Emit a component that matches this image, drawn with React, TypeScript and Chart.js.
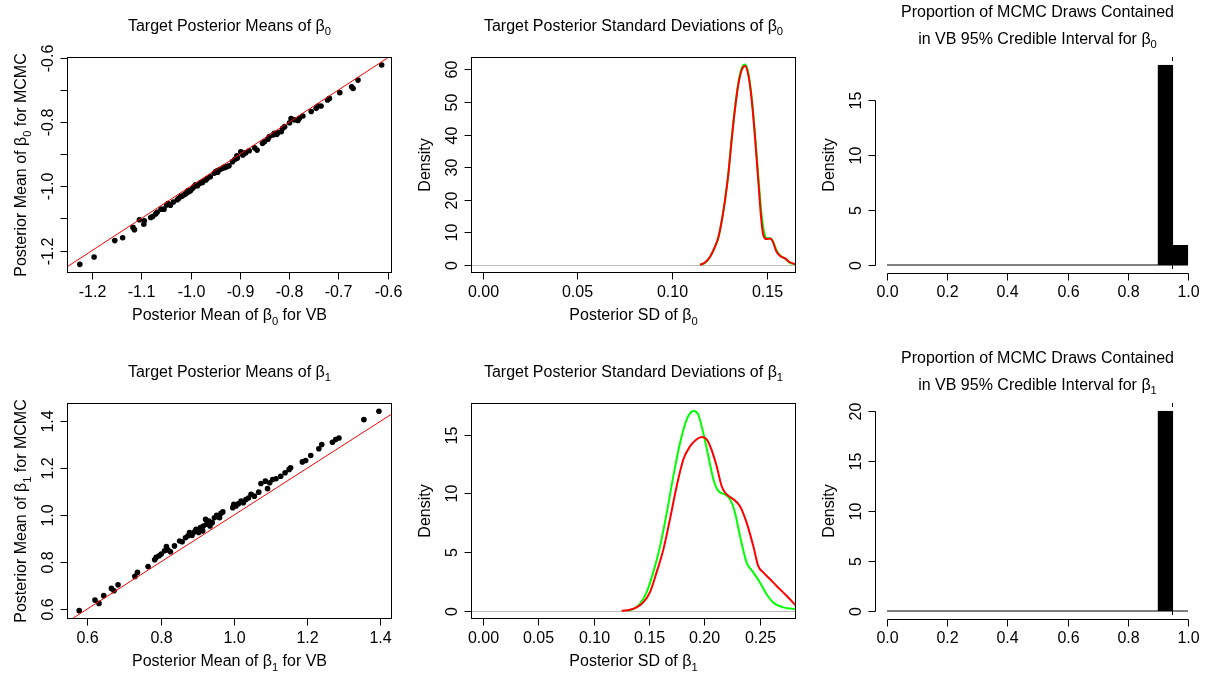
import React, { useEffect, useRef } from "react";
import { Chart, registerables } from "chart.js";

Chart.register(...registerables);

// ---------------------------------------------------------------------------
// Data
// ---------------------------------------------------------------------------

// Posterior means of beta0 across simulated data sets: VB (x) against MCMC (y)
const beta0MeanVB = [
  -1.225, -1.196, -1.154, -1.138, -1.117, -1.114, -1.104, -1.095, -1.094, -1.081,
  -1.077, -1.071, -1.068, -1.06, -1.054, -1.049, -1.046, -1.041, -1.027, -1.024,
  -1.02, -1.017, -1.013, -1.01, -1.007, -1.003, -1.0, -0.996, -0.993, -0.99,
  -0.986, -0.981, -0.976, -0.969, -0.966, -0.952, -0.949, -0.945, -0.94, -0.935,
  -0.932, -0.926, -0.922, -0.915, -0.91, -0.905, -0.906, -0.898, -0.894, -0.891,
  -0.888, -0.881, -0.865, -0.854, -0.85, -0.843, -0.84, -0.833, -0.83, -0.823,
  -0.816, -0.813, -0.809, -0.799, -0.796, -0.789, -0.782, -0.779, -0.772, -0.755,
  -0.745, -0.741, -0.735, -0.722, -0.718, -0.697, -0.673, -0.67, -0.66, -0.612,
  -1.005, -0.96, -0.93, -0.87, -0.825, -0.975, -1.035, -0.945,
];
const beta0MeanMCMC = [
  -1.243, -1.22, -1.169, -1.16, -1.128, -1.135, -1.104, -1.118, -1.107, -1.097,
  -1.094, -1.086, -1.081, -1.071, -1.071, -1.058, -1.054, -1.059, -1.042, -1.037,
  -1.032, -1.03, -1.026, -1.023, -1.019, -1.016, -1.013, -1.006, -1.001, -0.995,
  -0.998, -0.99, -0.988, -0.98, -0.975, -0.959, -0.954, -0.951, -0.947, -0.944,
  -0.94, -0.938, -0.936, -0.923, -0.916, -0.912, -0.905, -0.892, -0.902, -0.897,
  -0.895, -0.889, -0.887, -0.866, -0.861, -0.853, -0.845, -0.84, -0.835, -0.833,
  -0.83, -0.819, -0.814, -0.802, -0.789, -0.793, -0.795, -0.788, -0.781, -0.767,
  -0.757, -0.75, -0.75, -0.731, -0.726, -0.708, -0.69, -0.695, -0.669, -0.622,
  -1.013, -0.97, -0.941, -0.88, -0.838, -0.985, -1.049, -0.956,
];

// Posterior means of beta1: VB (x) against MCMC (y)
const beta1MeanVB = [
  0.578, 0.621, 0.632, 0.645, 0.666, 0.673, 0.684, 0.73, 0.737, 0.766,
  0.784, 0.788, 0.796, 0.802, 0.811, 0.816, 0.82, 0.827, 0.838, 0.852,
  0.859, 0.868, 0.875, 0.879, 0.886, 0.893, 0.897, 0.904, 0.909, 0.915,
  0.917, 0.923, 0.926, 0.932, 0.935, 0.941, 0.947, 0.953, 0.961, 0.965,
  0.97, 0.997, 1.0, 1.006, 1.013, 1.02, 1.026, 1.033, 1.04, 1.047,
  1.056, 1.068, 1.074, 1.086, 1.092, 1.098, 1.106, 1.115, 1.128, 1.14,
  1.151, 1.155, 1.187, 1.196, 1.21, 1.232, 1.24, 1.269, 1.278, 1.287,
  1.355, 1.396,
];
const beta1MeanMCMC = [
  0.593, 0.638, 0.624, 0.657, 0.688, 0.678, 0.703, 0.739, 0.756, 0.781,
  0.81, 0.82, 0.827, 0.834, 0.848, 0.866, 0.852, 0.844, 0.869, 0.89,
  0.887, 0.904, 0.912, 0.926, 0.914, 0.929, 0.94, 0.926, 0.947, 0.933,
  0.954, 0.982, 0.961, 0.975, 0.954, 0.968, 0.989, 0.999, 0.989, 1.008,
  1.014, 1.032, 1.046, 1.039, 1.049, 1.06, 1.053, 1.067, 1.073, 1.089,
  1.081, 1.098, 1.135, 1.145, 1.113, 1.138, 1.152, 1.155, 1.166, 1.181,
  1.195, 1.202, 1.227, 1.233, 1.254, 1.283, 1.301, 1.311, 1.322, 1.329,
  1.407, 1.443,
];

// Kernel density of the posterior SDs of beta0 (red: VB, green: MCMC)
const beta0SdVbX = [
  0.1148, 0.1174, 0.1201, 0.1227, 0.1245, 0.1262, 0.128, 0.1298, 0.1315, 0.1333,
  0.135, 0.1368, 0.1386, 0.1403, 0.1421, 0.1438, 0.1456, 0.147, 0.1482, 0.15,
  0.1518, 0.1532, 0.1549, 0.157, 0.1597, 0.1623, 0.1655,
];
const beta0SdVbY = [
  0, 0.7, 2.5, 5.6, 8.5, 13.3, 19.9, 28.1, 38.3, 48.0,
  55.2, 59.8, 61.0, 58.3, 50.6, 39.4, 25.6, 14.9, 9.2, 7.9,
  8.1, 7.2, 4.4, 2.8, 2.0, 0.8, 0.2,
];
const beta0SdMcmcX = [
  0.115, 0.1174, 0.1201, 0.1227, 0.1245, 0.1262, 0.128, 0.1298, 0.1315, 0.1333,
  0.135, 0.1368, 0.1386, 0.1403, 0.1421, 0.1438, 0.1456, 0.1473, 0.1487, 0.1503,
  0.1521, 0.1535, 0.1553, 0.1574, 0.16, 0.1623, 0.1655,
];
const beta0SdMcmcY = [
  0, 0.6, 2.4, 5.5, 8.4, 13.2, 19.8, 28.2, 38.6, 48.5,
  55.8, 60.4, 61.5, 58.9, 51.4, 40.5, 27.0, 15.6, 9.9, 8.2,
  8.1, 7.0, 4.4, 2.7, 1.8, 0.6, 0.1,
];

// Kernel density of the posterior SDs of beta1
const beta1SdVbX = [
  0.1253, 0.1328, 0.1388, 0.1448, 0.1508, 0.1568, 0.1629, 0.1689, 0.1749, 0.181,
  0.187, 0.193, 0.1974, 0.202, 0.2064, 0.211, 0.2155, 0.22, 0.226, 0.232,
  0.238, 0.244, 0.2485, 0.253, 0.259, 0.265, 0.274, 0.2825,
];
const beta1SdVbY = [
  0, 0.08, 0.28, 0.7, 1.56, 3.26, 5.2, 7.8, 10.6, 12.9,
  14.0, 14.6, 14.8, 14.6, 13.7, 12.3, 10.6, 9.9, 9.5, 8.9,
  7.5, 5.5, 3.8, 3.26, 2.7, 2.1, 1.27, 0.42,
];
const beta1SdMcmcX = [
  0.1298, 0.1358, 0.1418, 0.1478, 0.1538, 0.16, 0.166, 0.172, 0.178, 0.184,
  0.19, 0.1944, 0.199, 0.2034, 0.208, 0.2124, 0.2185, 0.223, 0.2275, 0.232,
  0.238, 0.244, 0.25, 0.256, 0.262, 0.271, 0.2825,
];
const beta1SdMcmcY = [
  0, 0.14, 0.57, 1.56, 3.26, 5.5, 8.35, 11.5, 14.3, 16.3,
  17.0, 16.7, 15.1, 13.2, 11.2, 10.2, 9.9, 9.5, 8.35, 6.37,
  4.1, 3.26, 2.4, 1.4, 0.7, 0.28, 0.14,
];

// Histogram of coverage proportions (density scale), bins of width 0.05
const coverageBreaks = [
  0, 0.05, 0.1, 0.15, 0.2, 0.25, 0.3, 0.35, 0.4, 0.45, 0.5,
  0.55, 0.6, 0.65, 0.7, 0.75, 0.8, 0.85, 0.9, 0.95, 1.0,
];
const beta0Coverage = [0, 0, 0, 0, 0, 0, 0, 0, 0, 0, 0, 0, 0, 0, 0, 0, 0, 0, 18.2, 1.8];
const beta1Coverage = [0, 0, 0, 0, 0, 0, 0, 0, 0, 0, 0, 0, 0, 0, 0, 0, 0, 0, 20.0, 0];
const nominalLevel = 0.95;

// Axis ticks
const beta0MeanXTicks = [-1.2, -1.1, -1.0, -0.9, -0.8, -0.7, -0.6];
const beta0MeanYTicks = [-1.2, -1.1, -1.0, -0.9, -0.8, -0.7, -0.6];
const beta0MeanYLabelled = [-1.2, -1.0, -0.8, -0.6];
const beta1MeanXTicks = [0.6, 0.8, 1.0, 1.2, 1.4];
const beta1MeanYTicks = [0.6, 0.8, 1.0, 1.2, 1.4];
const beta0SdXTicks = [0, 0.05, 0.1, 0.15];
const beta0SdYTicks = [0, 10, 20, 30, 40, 50, 60];
const beta1SdXTicks = [0, 0.05, 0.1, 0.15, 0.2, 0.25];
const beta1SdYTicks = [0, 5, 10, 15];
const coverageXTicks = [0, 0.2, 0.4, 0.6, 0.8, 1.0];
const beta0CoverageYTicks = [0, 5, 10, 15];
const beta1CoverageYTicks = [0, 5, 10, 15, 20];

// Axis limits of each plot region
const beta0MeanXLim: [number, number] = [-1.251, -0.591];
const beta0MeanYLim: [number, number] = [-1.27, -0.597];
const beta1MeanXLim: [number, number] = [0.5447, 1.4317];
const beta1MeanYLim: [number, number] = [0.5575, 1.478];
const beta0SdXLim: [number, number] = [-0.0062, 0.1655];
const beta0SdYLim: [number, number] = [-2.5, 63.8];
const beta1SdXLim: [number, number] = [-0.0105, 0.2825];
const beta1SdYLim: [number, number] = [-0.71, 17.69];
const coverageXLim: [number, number] = [-0.04, 1.04];
const beta0CoverageYLim: [number, number] = [-0.728, 18.93];
const beta1CoverageYLim: [number, number] = [-0.8, 20.8];

// ---------------------------------------------------------------------------
// Layout and text
// ---------------------------------------------------------------------------

const PAGE_W = 1212;
const PAGE_H = 674;
const PANEL_W = 404;
const PANEL_H = 328;
const ROW_STEP = 346;
const PAD = { left: 67, right: 12, top: 57, bottom: 55 };

const FONT_FAMILY = '"Liberation Sans", Arial, Helvetica, sans-serif';
const FONT_SIZE = 16;
const SUB_SCALE = 0.7;
const SUB_DROP = 4.5;
const TICK_LEN = 7;
const X_TICK_BASE = 24;
const X_TITLE_BASE = 47;
const Y_TICK_BASE = 14.5;
const Y_TITLE_BASE = 41;
const TITLE_ONE_LINE = 30.5;
const TITLE_TWO_LINES = [17, 43.5];
const POINT_RADIUS = 2.8;

type Seg = { text: string; sub: boolean };

// "β_0" style markup: an underscore followed by a digit becomes a subscript
function parseRich(s: string): Seg[] {
  const out: Seg[] = [];
  const re = /_(\d)/g;
  let last = 0;
  let m: RegExpExecArray | null;
  while ((m = re.exec(s))) {
    if (m.index > last) out.push({ text: s.slice(last, m.index), sub: false });
    out.push({ text: m[1], sub: true });
    last = m.index + m[0].length;
  }
  if (last < s.length) out.push({ text: s.slice(last), sub: false });
  return out;
}

function drawRich(ctx: CanvasRenderingContext2D, s: string, x: number, y: number, rotated = false) {
  const segs = parseRich(s);
  const mainFont = `${FONT_SIZE}px ${FONT_FAMILY}`;
  const subFont = `${FONT_SIZE * SUB_SCALE}px ${FONT_FAMILY}`;
  let total = 0;
  const widths = segs.map((g) => {
    ctx.font = g.sub ? subFont : mainFont;
    const w = ctx.measureText(g.text).width;
    total += w;
    return w;
  });
  ctx.save();
  ctx.translate(x, y);
  if (rotated) ctx.rotate(-Math.PI / 2);
  ctx.textAlign = "left";
  ctx.textBaseline = "alphabetic";
  ctx.fillStyle = "#000";
  let cx = -total / 2;
  segs.forEach((g, i) => {
    ctx.font = g.sub ? subFont : mainFont;
    ctx.fillText(g.text, cx, g.sub ? SUB_DROP : 0);
    cx += widths[i];
  });
  ctx.restore();
}

const snap = (v: number) => Math.round(v) + 0.5;
const near = (a: number, b: number) => Math.abs(a - b) < 1e-9;

// ---------------------------------------------------------------------------
// Panel specification
// ---------------------------------------------------------------------------

interface PanelSpec {
  id: string;
  col: number;
  row: number;
  title: string[];
  xLabel: string | null;
  yLabel: string;
  xLim: [number, number];
  yLim: [number, number];
  xTicks: number[];
  xDigits: number;
  yTicks: number[];
  yDigits: number;
  yLabelled?: number[];
  frame: "box" | "axes";
  zeroLine?: boolean;
  refLine?: number;
  config: () => any;
}

const zip = (xs: number[], ys: number[]) => xs.map((x, i) => ({ x, y: ys[i] }));

function scatterConfig(vb: number[], mcmc: number[], xLim: [number, number]) {
  return {
    type: "scatter",
    data: {
      datasets: [
        {
          label: "y = x",
          data: [
            { x: xLim[0], y: xLim[0] },
            { x: xLim[1], y: xLim[1] },
          ],
          showLine: true,
          borderColor: "#ff0000",
          borderWidth: 1,
          pointRadius: 0,
          fill: false,
        },
        {
          label: "posterior means",
          data: zip(vb, mcmc),
          showLine: false,
          pointRadius: POINT_RADIUS,
          pointBackgroundColor: "#000",
          pointBorderWidth: 0,
        },
      ],
    },
  };
}

function densityConfig(vbX: number[], vbY: number[], mcX: number[], mcY: number[]) {
  const line = {
    showLine: true,
    borderWidth: 2,
    pointRadius: 0,
    fill: false,
    cubicInterpolationMode: "monotone",
  };
  return {
    type: "scatter",
    data: {
      datasets: [
        { label: "VB", data: zip(vbX, vbY), borderColor: "#ff0000", ...line },
        { label: "MCMC", data: zip(mcX, mcY), borderColor: "#00ff00", ...line },
      ],
    },
  };
}

function histConfig(values: number[]) {
  const mids = values.map((_, i) => (coverageBreaks[i] + coverageBreaks[i + 1]) / 2);
  return {
    type: "bar",
    data: {
      datasets: [
        {
          type: "bar",
          label: "density",
          data: mids.map((x, i) => ({ x, y: values[i] })),
          backgroundColor: "#000",
          borderColor: "#000",
          borderWidth: 1,
          borderSkipped: false,
          barPercentage: 1,
          categoryPercentage: 1,
          grouped: false,
        },
        {
          type: "line",
          label: "empty bins",
          data: [
            { x: coverageBreaks[0], y: 0 },
            { x: coverageBreaks[coverageBreaks.length - 1], y: 0 },
          ],
          borderColor: "#000",
          borderWidth: 1,
          pointRadius: 0,
          fill: false,
        },
      ],
    },
  };
}

const panels: PanelSpec[] = [
  {
    id: "mean0",
    col: 0,
    row: 0,
    title: ["Target Posterior Means of β_0"],
    xLabel: "Posterior Mean of β_0 for VB",
    yLabel: "Posterior Mean of β_0 for MCMC",
    xLim: beta0MeanXLim,
    yLim: beta0MeanYLim,
    xTicks: beta0MeanXTicks,
    xDigits: 1,
    yTicks: beta0MeanYTicks,
    yDigits: 1,
    yLabelled: beta0MeanYLabelled,
    frame: "box",
    config: () => scatterConfig(beta0MeanVB, beta0MeanMCMC, beta0MeanXLim),
  },
  {
    id: "sd0",
    col: 1,
    row: 0,
    title: ["Target Posterior Standard Deviations of β_0"],
    xLabel: "Posterior SD of β_0",
    yLabel: "Density",
    xLim: beta0SdXLim,
    yLim: beta0SdYLim,
    xTicks: beta0SdXTicks,
    xDigits: 2,
    yTicks: beta0SdYTicks,
    yDigits: 0,
    frame: "box",
    zeroLine: true,
    config: () => densityConfig(beta0SdVbX, beta0SdVbY, beta0SdMcmcX, beta0SdMcmcY),
  },
  {
    id: "cov0",
    col: 2,
    row: 0,
    title: ["Proportion of MCMC Draws Contained", "in VB 95% Credible Interval for β_0"],
    xLabel: null,
    yLabel: "Density",
    xLim: coverageXLim,
    yLim: beta0CoverageYLim,
    xTicks: coverageXTicks,
    xDigits: 1,
    yTicks: beta0CoverageYTicks,
    yDigits: 0,
    frame: "axes",
    refLine: nominalLevel,
    config: () => histConfig(beta0Coverage),
  },
  {
    id: "mean1",
    col: 0,
    row: 1,
    title: ["Target Posterior Means of β_1"],
    xLabel: "Posterior Mean of β_1 for VB",
    yLabel: "Posterior Mean of β_1 for MCMC",
    xLim: beta1MeanXLim,
    yLim: beta1MeanYLim,
    xTicks: beta1MeanXTicks,
    xDigits: 1,
    yTicks: beta1MeanYTicks,
    yDigits: 1,
    frame: "box",
    config: () => scatterConfig(beta1MeanVB, beta1MeanMCMC, beta1MeanXLim),
  },
  {
    id: "sd1",
    col: 1,
    row: 1,
    title: ["Target Posterior Standard Deviations of β_1"],
    xLabel: "Posterior SD of β_1",
    yLabel: "Density",
    xLim: beta1SdXLim,
    yLim: beta1SdYLim,
    xTicks: beta1SdXTicks,
    xDigits: 2,
    yTicks: beta1SdYTicks,
    yDigits: 0,
    frame: "box",
    zeroLine: true,
    config: () => densityConfig(beta1SdVbX, beta1SdVbY, beta1SdMcmcX, beta1SdMcmcY),
  },
  {
    id: "cov1",
    col: 2,
    row: 1,
    title: ["Proportion of MCMC Draws Contained", "in VB 95% Credible Interval for β_1"],
    xLabel: null,
    yLabel: "Density",
    xLim: coverageXLim,
    yLim: beta1CoverageYLim,
    xTicks: coverageXTicks,
    xDigits: 1,
    yTicks: beta1CoverageYTicks,
    yDigits: 0,
    frame: "axes",
    refLine: nominalLevel,
    config: () => histConfig(beta1Coverage),
  },
];

// ---------------------------------------------------------------------------
// Base-graphics style frame: box / axes, ticks, labels and titles
// ---------------------------------------------------------------------------

function framePlugin(spec: PanelSpec) {
  return {
    id: "baseFrame",
    beforeDatasetsDraw(chart: any) {
      if (!spec.zeroLine) return;
      const { ctx, chartArea: a, scales } = chart;
      const y0 = snap(scales.y.getPixelForValue(0));
      ctx.save();
      ctx.strokeStyle = "#bebebe";
      ctx.lineWidth = 1;
      ctx.beginPath();
      ctx.moveTo(a.left, y0);
      ctx.lineTo(a.right, y0);
      ctx.stroke();
      ctx.restore();
    },
    afterDatasetsDraw(chart: any) {
      if (spec.refLine === undefined) return;
      const { ctx, chartArea: a, scales } = chart;
      // keep the dashed reference inside the bar edge it coincides with
      const xr = Math.floor(scales.x.getPixelForValue(spec.refLine)) + 0.5;
      ctx.save();
      ctx.strokeStyle = "#000";
      ctx.lineWidth = 1;
      ctx.setLineDash([4, 4]);
      ctx.beginPath();
      ctx.moveTo(xr, a.top);
      ctx.lineTo(xr, a.bottom);
      ctx.stroke();
      ctx.restore();
    },
    afterDraw(chart: any) {
      const { ctx, chartArea: a, scales } = chart;
      const xs = scales.x;
      const ys = scales.y;
      ctx.save();
      ctx.strokeStyle = "#000";
      ctx.lineWidth = 1;

      const left = Math.round(a.left);
      const right = Math.round(a.right);
      const top = Math.round(a.top);
      const bottom = Math.round(a.bottom);

      if (spec.frame === "box") {
        ctx.strokeRect(left + 0.5, top + 0.5, right - left - 1, bottom - top - 1);
      }

      // x axis
      const xAxisY = spec.frame === "box" ? bottom - 0.5 : bottom + 0.5;
      if (spec.frame === "axes") {
        ctx.beginPath();
        ctx.moveTo(snap(xs.getPixelForValue(spec.xTicks[0])), xAxisY);
        ctx.lineTo(snap(xs.getPixelForValue(spec.xTicks[spec.xTicks.length - 1])), xAxisY);
        ctx.stroke();
      }
      spec.xTicks.forEach((v) => {
        const px = snap(xs.getPixelForValue(v));
        ctx.beginPath();
        ctx.moveTo(px, xAxisY);
        ctx.lineTo(px, xAxisY + TICK_LEN);
        ctx.stroke();
        drawRich(ctx, v.toFixed(spec.xDigits), px, a.bottom + X_TICK_BASE);
      });

      // y axis
      const yAxisX = left + 0.5;
      if (spec.frame === "axes") {
        ctx.beginPath();
        ctx.moveTo(yAxisX, snap(ys.getPixelForValue(spec.yTicks[0])));
        ctx.lineTo(yAxisX, snap(ys.getPixelForValue(spec.yTicks[spec.yTicks.length - 1])));
        ctx.stroke();
      }
      spec.yTicks.forEach((v) => {
        const py = snap(ys.getPixelForValue(v));
        ctx.beginPath();
        ctx.moveTo(yAxisX, py);
        ctx.lineTo(yAxisX - TICK_LEN, py);
        ctx.stroke();
        const labelled = spec.yLabelled ? spec.yLabelled.some((l) => near(l, v)) : true;
        if (labelled) drawRich(ctx, v.toFixed(spec.yDigits), a.left - Y_TICK_BASE, py, true);
      });

      // axis titles
      const cx = (a.left + a.right) / 2;
      const cy = (a.top + a.bottom) / 2;
      if (spec.xLabel) drawRich(ctx, spec.xLabel, cx, a.bottom + X_TITLE_BASE);
      drawRich(ctx, spec.yLabel, a.left - Y_TITLE_BASE, cy, true);

      // main title
      const lines = spec.title;
      const bases = lines.length === 1 ? [TITLE_ONE_LINE] : TITLE_TWO_LINES;
      lines.forEach((t, i) => drawRich(ctx, t, cx, bases[i]));

      ctx.restore();
    },
  };
}

// ---------------------------------------------------------------------------
// Components
// ---------------------------------------------------------------------------

function Panel({ spec }: { spec: PanelSpec }) {
  const ref = useRef<HTMLCanvasElement | null>(null);

  useEffect(() => {
    const canvas = ref.current;
    if (!canvas) return;
    const base = spec.config();
    const chart = new Chart(canvas, {
      ...base,
      options: {
        responsive: false,
        maintainAspectRatio: false,
        animation: false,
        devicePixelRatio: 1,
        events: [],
        layout: { padding: PAD },
        plugins: {
          legend: { display: false },
          tooltip: { enabled: false },
          title: { display: false },
        },
        scales: {
          x: {
            type: "linear",
            min: spec.xLim[0],
            max: spec.xLim[1],
            offset: false,
            display: false,
          },
          y: {
            type: "linear",
            min: spec.yLim[0],
            max: spec.yLim[1],
            display: false,
          },
        },
      },
      plugins: [framePlugin(spec)],
    } as any);
    return () => chart.destroy();
  }, [spec]);

  return (
    <canvas
      ref={ref}
      width={PANEL_W}
      height={PANEL_H}
      style={{
        position: "absolute",
        left: spec.col * PANEL_W,
        top: spec.row * ROW_STEP,
        width: PANEL_W,
        height: PANEL_H,
      }}
    />
  );
}

export default function App() {
  return (
    <div
      style={{
        position: "absolute",
        left: 0,
        top: 0,
        width: PAGE_W,
        height: PAGE_H,
        background: "#ffffff",
        overflow: "hidden",
      }}
    >
      {panels.map((p) => (
        <Panel key={p.id} spec={p} />
      ))}
    </div>
  );
}
